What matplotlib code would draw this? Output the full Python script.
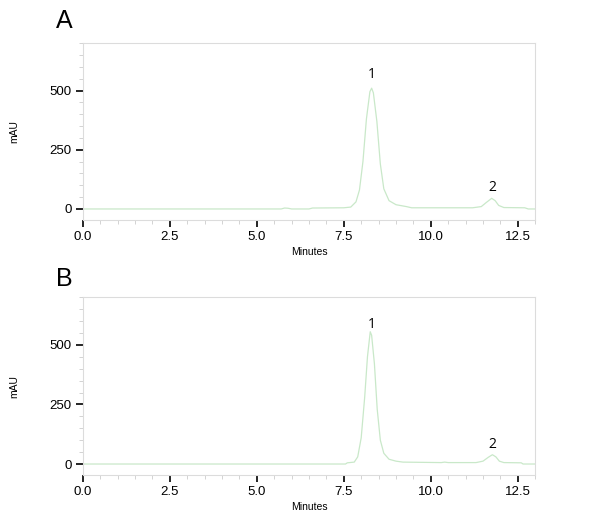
import matplotlib
matplotlib.use("Agg")
import matplotlib.pyplot as plt
from matplotlib.ticker import MultipleLocator

plt.rcParams['font.family'] = ['Liberation Sans', 'DejaVu Sans']

# Panel A trace (minutes, mAU)
time_a = [0.0, 5.7, 5.8, 5.9, 6.0, 6.5, 6.6, 7.5, 7.7, 7.85, 7.95, 8.05, 8.15, 8.25,
          8.3, 8.35, 8.45, 8.55, 8.65, 8.8, 9.0, 9.3, 9.45, 11.2, 11.45, 11.6, 11.75,
          11.85, 11.95, 12.1, 12.7, 12.8, 13.0]
mau_a = [0, 0, 4, 3, 0, 0, 4, 5, 8, 30, 80, 200, 380, 495,
         510, 490, 370, 190, 85, 35, 18, 10, 5, 5, 10, 28, 45,
         35, 15, 6, 5, 0, 0]

# Panel B trace (minutes, mAU)
time_b = [0.0, 7.55, 7.6, 7.8, 7.9, 8.0, 8.1, 8.18, 8.26, 8.3, 8.38, 8.46, 8.55,
          8.65, 8.8, 9.0, 9.2, 10.3, 10.4, 10.5, 11.3, 11.5, 11.65, 11.77, 11.87,
          11.97, 12.1, 12.6, 12.65, 13.0]
mau_b = [0, 0, 5, 8, 30, 110, 280, 450, 555, 540, 420, 230, 100,
         45, 20, 12, 8, 6, 8, 6, 6, 12, 28, 39, 30,
         12, 6, 5, 0, 0]

peak_labels = ["1", "2"]
peak_pos_a = [(8.3, 567), (11.77, 90)]
peak_pos_b = [(8.3, 586), (11.77, 82)]

x_ticks = [0.0, 2.5, 5.0, 7.5, 10.0, 12.5]
y_ticks = [0, 250, 500]
panel_labels = ["A", "B"]

fig = plt.figure(figsize=(6.0, 5.26), dpi=100)
ax_a = fig.add_axes([0.138, 0.582, 0.754, 0.336])
ax_b = fig.add_axes([0.138, 0.097, 0.754, 0.338])

line_color = '#c9e8c9'
for ax, t, v, pos, lab, ly in [(ax_a, time_a, mau_a, peak_pos_a, panel_labels[0], 1.125),
                               (ax_b, time_b, mau_b, peak_pos_b, panel_labels[1], 1.1)]:
    ax.plot(t, v, color=line_color, lw=0.9)
    ax.set_xlim(0, 13.0)
    ax.set_ylim(-46, 700)
    ax.set_xticks(x_ticks)
    ax.set_xticklabels([f"{x:.1f}" for x in x_ticks])
    ax.set_yticks(y_ticks)
    ax.xaxis.set_minor_locator(MultipleLocator(0.5))
    ax.yaxis.set_minor_locator(MultipleLocator(50))
    for s in ax.spines.values():
        s.set_color('#dcdcdc')
        s.set_linewidth(0.8)
    ax.tick_params(axis='both', which='major', length=5, width=1.2, color='black',
                   labelsize=9.5, pad=3)
    ax.tick_params(axis='both', which='minor', length=3, width=0.6, color='#cccccc')
    ax.set_xlabel("Minutes", fontsize=7.5, labelpad=3)
    ax.set_ylabel("mAU", fontsize=7.5, labelpad=22)
    for name, (px, py) in zip(peak_labels, pos):
        ax.text(px, py, name, ha='center', va='center', fontsize=10,
                family=['Open Sans', 'DejaVu Sans'])
    ax.text(-0.06, ly, lab, transform=ax.transAxes,
            fontsize=18, ha='left', va='center')

fig.savefig("out.png", dpi=100)
